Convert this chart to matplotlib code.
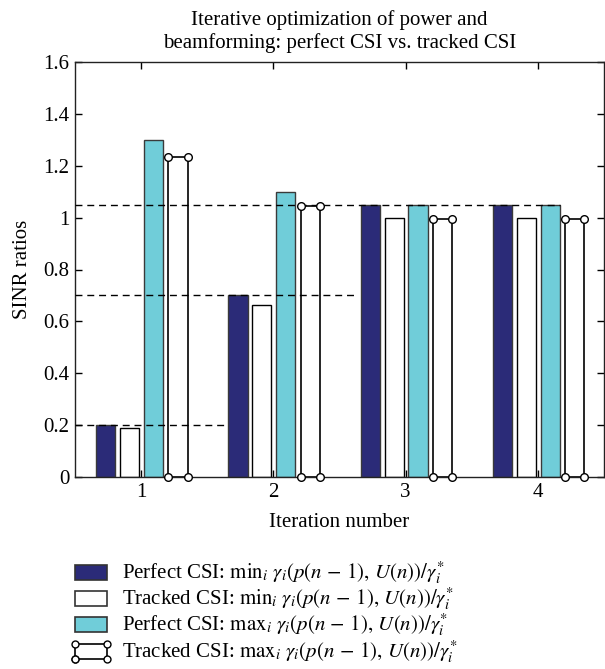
import numpy as np
import matplotlib.pyplot as plt
from matplotlib.lines import Line2D
from matplotlib.patches import Rectangle

plt.rcParams['font.family'] = ['Liberation Serif', 'DejaVu Serif']
plt.rcParams['mathtext.fontset'] = 'stix'

iterations = [1, 2, 3, 4]
perfect_min = [0.20, 0.70, 1.05, 1.05]
tracked_min = [0.19, 0.665, 1.00, 1.00]
perfect_max = [1.30, 1.10, 1.05, 1.05]
tracked_max = [1.235, 1.045, 0.995, 0.995]

# dashed target levels and where each one stops on the x axis
target_levels = [0.20, 0.70, 1.05]
target_ends = [1.64, 2.64, 4.165]

labels = [
    r"Perfect CSI: $\mathrm{min}_i\ \gamma_i(p(n\,-\,1),\,U(n))/\gamma_i^{*}$",
    r"Tracked CSI: $\mathrm{min}_i\ \gamma_i(p(n\,-\,1),\,U(n))/\gamma_i^{*}$",
    r"Perfect CSI: $\mathrm{max}_i\ \gamma_i(p(n\,-\,1),\,U(n))/\gamma_i^{*}$",
    r"Tracked CSI: $\mathrm{max}_i\ \gamma_i(p(n\,-\,1),\,U(n))/\gamma_i^{*}$",
]

navy = "#2b2b78"
cyan = "#70cdd9"
fs = 15

W, H = 605, 669
fig = plt.figure(figsize=(W / 100, H / 100), dpi=100)
ax = fig.add_axes([75 / W, 1 - 477 / H, 529 / W, 415 / H])

x = np.array(iterations, dtype=float)
w = 0.145
offsets = [-0.268, -0.087, 0.094, 0.279]

ax.bar(x + offsets[0], perfect_min, w, color=navy, edgecolor="#3a3a3a", lw=1.0, zorder=2)
ax.bar(x + offsets[1], tracked_min, w, color="white", edgecolor="k", lw=1.0, zorder=2)
ax.bar(x + offsets[2], perfect_max, w, color=cyan, edgecolor="#3a3a3a", lw=1.0, zorder=2)
ax.bar(x + offsets[3], tracked_max, w, fill=False, edgecolor="k", lw=1.2, zorder=2)

# circle markers at the corners of the tracked max bars
left = x + offsets[3] - w / 2
right = x + offsets[3] + w / 2
tm = np.array(tracked_max)
for xs_, ys_ in [(left, tm), (right, tm), (left, 0 * tm), (right, 0 * tm)]:
    ax.plot(xs_, ys_, "o", ms=5.5, mfc="white", mec="k", mew=1.0, zorder=5,
            clip_on=False)

for lvl, end in zip(target_levels, target_ends):
    ax.plot([0.5, end], [lvl, lvl], color="k", lw=1.0, ls=(0, (5, 3.5)), zorder=4)

ax.set_xlim(0.5, 4.5)
ax.set_ylim(0, 1.6)
ax.set_xticks(iterations)
ax.set_yticks(np.arange(0, 1.61, 0.2))
ax.set_yticklabels(["0", "0.2", "0.4", "0.6", "0.8", "1", "1.2", "1.4", "1.6"])
ax.tick_params(direction="in", top=True, right=True, labelsize=fs, length=5,
               width=1.0, pad=4)
for s in ax.spines.values():
    s.set_linewidth(1.0)
    s.set_color("#222222")

ax.set_xlabel("Iteration number", fontsize=fs, labelpad=8)
ax.set_ylabel("SINR ratios", fontsize=fs, labelpad=8)
ax.set_title("Iterative optimization of power and\nbeamforming: perfect CSI vs. tracked CSI",
             fontsize=fs, pad=10, linespacing=1.2)

# legend below the axes, laid out row by row in pixel units
def fx(px):
    return px / W


def fy(py):
    return 1 - py / H


row_y = [572, 598.5, 624.5, 651]
box_l, box_r, box_h = 75, 107, 15
faces = [navy, "white", cyan]
for i, (yc, lab) in enumerate(zip(row_y, labels)):
    if i < 3:
        fig.add_artist(Rectangle((fx(box_l), fy(yc + box_h / 2)),
                                 fx(box_r) - fx(box_l), box_h / H,
                                 transform=fig.transFigure, facecolor=faces[i],
                                 edgecolor="#333333", lw=1.2))
    else:
        xs = [box_l, box_l, box_r, box_r, box_l]
        ys = [yc + box_h / 2, yc - box_h / 2, yc - box_h / 2, yc + box_h / 2, yc + box_h / 2]
        fig.add_artist(Line2D([fx(v) for v in xs], [fy(v) for v in ys],
                              transform=fig.transFigure, color="k", lw=1.2,
                              marker="o", ms=5, mfc="white", mec="k", mew=1.0))
    fig.text(fx(122), fy(yc + 6), lab, fontsize=fs, ha="left", va="baseline")

fig.savefig("out.png", dpi=100)
